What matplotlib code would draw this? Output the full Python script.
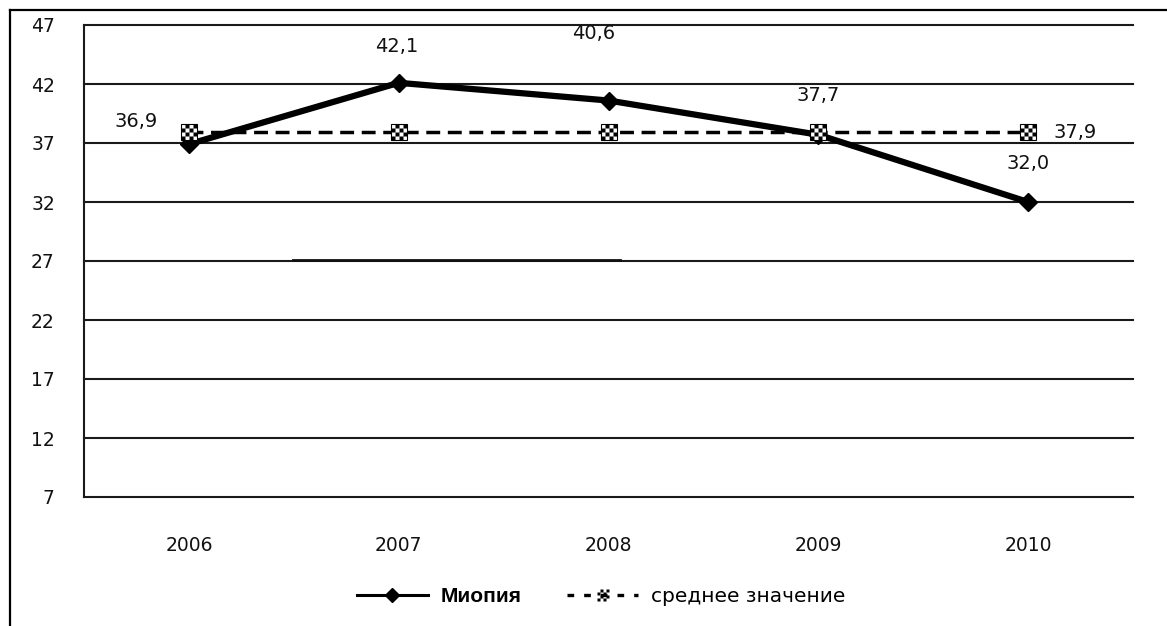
import matplotlib
matplotlib.use("Agg")
import matplotlib.pyplot as plt
from matplotlib.lines import Line2D
from matplotlib.path import Path

years = ["2006", "2007", "2008", "2009", "2010"]
myopia = [36.9, 42.1, 40.6, 37.7, 32.0]
mean_vals = [37.9, 37.9, 37.9, 37.9, 37.9]
yticks = [7, 12, 17, 22, 27, 32, 37, 42, 47]
myopia_labels = ["36,9", "42,1", "40,6", "37,7", "32,0"]
mean_label = "37,9"

W, H = 1167, 626
fig = plt.figure(figsize=(W / 100, H / 100), dpi=100)
ax = fig.add_axes([84 / W, 1 - 497 / H, (1133 - 84) / W, (497 - 25) / H])

x = list(range(len(years)))

ax.set_xlim(-0.5, len(years) - 0.5)
ax.set_ylim(7, 47)
ax.set_yticks(yticks)
ax.set_xticks(x)
ax.set_xticklabels(years)
for t in yticks:
    ax.axhline(t, color="#1a1a1a", lw=1.5, zorder=1, clip_on=False)
# slightly thicker segment on the 27 gridline (as in the source image)
ax.axhline(27.05, xmin=(293 - 84) / 1049, xmax=(620 - 84) / 1049, color="#111111", lw=2.0, zorder=1)

for s in ["right", "top", "bottom"]:
    ax.spines[s].set_visible(False)
ax.spines["left"].set_color("#1a1a1a")
ax.spines["left"].set_linewidth(1.5)
ax.tick_params(axis="both", length=0, labelsize=13.5, colors="#111111")
ax.tick_params(axis="y", pad=21)
ax.tick_params(axis="x", pad=28)

# checkerboard marker path (4x4 cells)
n = 4
verts, codes = [], []
for i in range(n):
    for j in range(n):
        if (i + j) % 2 == 0:
            x0, y0 = i / n - 0.5, j / n - 0.5
            x1, y1 = x0 + 1 / n, y0 + 1 / n
            verts += [(x0, y0), (x1, y0), (x1, y1), (x0, y1), (x0, y0)]
            codes += [Path.MOVETO, Path.LINETO, Path.LINETO, Path.LINETO, Path.CLOSEPOLY]
checker = Path(verts, codes)

# myopia line
ax.plot(x, myopia, color="black", lw=4.5, marker="D", markersize=9, zorder=3)

# mean dashed line (drawn on top)
ax.plot(x, mean_vals, color="black", lw=2.5, ls=(0, (4, 2.2)), marker="s", markersize=11.5,
        markerfacecolor="white", markeredgecolor="black", markeredgewidth=0.8, zorder=4)
ax.plot(x, mean_vals, ls="none", marker=checker, markersize=11.5,
        markerfacecolor="black", markeredgecolor="none", zorder=5)

offsets = [(-38, 16), (-1.5, 26.5), (-11, 48), (0, 28), (0, 27.5)]
for xi, yi, lab, off in zip(x, myopia, myopia_labels, offsets):
    ax.annotate(lab, (xi, yi), xytext=off, textcoords="offset points",
                ha="center", va="center", fontsize=14, color="#111111", zorder=6)
ax.annotate(mean_label, (x[-1], mean_vals[-1]), xytext=(18, 0), textcoords="offset points",
            ha="left", va="center", fontsize=14, color="#111111", zorder=6)

# outer border (top and left)
fig.add_artist(Line2D([10 / W, 10 / W], [1 - 10 / H, 0], transform=fig.transFigure,
                      color="black", lw=1.6))
fig.add_artist(Line2D([10 / W, 1], [1 - 10 / H, 1 - 10 / H], transform=fig.transFigure,
                      color="black", lw=1.6))

handles = [
    Line2D([], [], color="black", lw=2.2, marker="D", markersize=7.5),
    Line2D([], [], color="black", lw=2.4, ls=(0, (2, 3)), marker=checker, markersize=9,
           markerfacecolor="black", markeredgecolor="none"),
]
leg = fig.legend(handles, ["Миопия", "среднее значение"], loc="center",
                 bbox_to_anchor=(601 / W, 1 - 597 / H), ncol=2, frameon=False,
                 prop={"family": "Liberation Sans", "size": 15},
                 handlelength=3.4, columnspacing=2.2, handletextpad=0.6)
t0, t1 = leg.get_texts()
t0.set_fontweight("bold")
t1.set_fontfamily("DejaVu Sans")
t1.set_fontsize(14.5)

fig.savefig("out.png", dpi=100, facecolor="white")
